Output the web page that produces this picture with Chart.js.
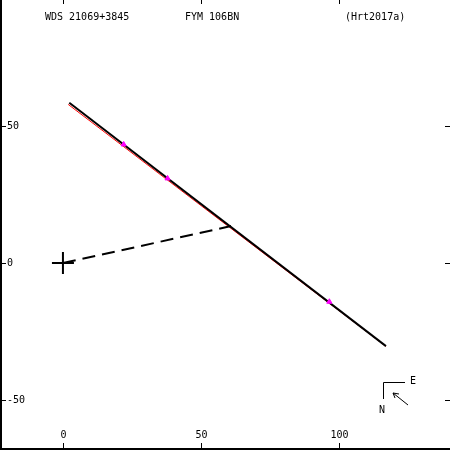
<!DOCTYPE html>
<html>
<head>
<meta charset="utf-8">
<script src="https://cdn.jsdelivr.net/npm/chart.js@4/dist/chart.umd.min.js"></script>
<style>
  html, body { margin: 0; padding: 0; background: #fff; }
  #wrap { width: 450px; height: 450px; }
</style>
</head>
<body>
<div id="wrap"><canvas id="c" width="450" height="450"></canvas></div>
<script>
// axis ranges and ticks (arcsec-ish units, as on the plot)
const xRange = [-22.8, 140.2];
const yRange = [-68.2, 96.0];
const xTicks = [0, 50, 100];
const yTicks = [-50, 0, 50];

// orbit track (red) and linear fit (black)
const orbitX = [1.9, 117.0];
const orbitY = [57.9, -30.4];
const fitX = [2.3, 117.0];
const fitY = [58.5, -30.3];

// measured positions
const obsX = [22.0, 37.9, 96.5];
const obsY = [43.3, 30.9, -14.1];

// primary and dashed line to closest point
const primX = [0];
const primY = [0];
const dashX = [0, 60.9];
const dashY = [0, 13.5];

const titles = ['WDS 21069+3845', 'FYM 106BN', '(Hrt2017a)'];

const zip = (xs, ys) => xs.map((x, i) => ({ x: x, y: ys[i] }));
const FONT = '10px "DejaVu Sans Mono", monospace';

const frame = {
	id: 'frame',
	afterDraw(chart) {
		const ctx = chart.ctx;
		const sx = chart.scales.x;
		const sy = chart.scales.y;
		const W = chart.width, H = chart.height;
		ctx.save();
		ctx.strokeStyle = '#000';
		ctx.fillStyle = '#000';
		ctx.lineWidth = 2;
		ctx.beginPath();
		ctx.moveTo(1, 0);
		ctx.lineTo(1, H - 1);
		ctx.lineTo(W, H - 1);
		ctx.stroke();

		ctx.lineWidth = 1;
		ctx.font = FONT;
		xTicks.forEach(v => {
			const px = Math.round(sx.getPixelForValue(v)) + 0.5;
			ctx.beginPath();
			ctx.moveTo(px, H - 7); ctx.lineTo(px, H);
			ctx.moveTo(px, 0); ctx.lineTo(px, 4);
			ctx.stroke();
			ctx.textAlign = 'center';
			ctx.textBaseline = 'middle';
			ctx.fillText(String(v), px, 435);
		});
		yTicks.forEach(v => {
			const py = Math.round(sy.getPixelForValue(v)) + 0.5;
			ctx.beginPath();
			ctx.moveTo(0, py); ctx.lineTo(6, py);
			ctx.moveTo(W - 5, py); ctx.lineTo(W, py);
			ctx.stroke();
			ctx.textAlign = 'left';
			ctx.textBaseline = 'middle';
			ctx.fillText(String(v), 7, py);
		});

		// header
		ctx.textAlign = 'left';
		ctx.textBaseline = 'middle';
		ctx.fillText(titles[0], 45, 17);
		ctx.fillText(titles[1], 185, 17);
		ctx.fillText(titles[2], 345, 17);

		// orientation marker
		ctx.beginPath();
		ctx.moveTo(405, 382.5); ctx.lineTo(383.5, 382.5); ctx.lineTo(383.5, 399);
		ctx.stroke();
		ctx.fillText('E', 410, 381);
		ctx.textAlign = 'center';
		ctx.fillText('N', 382, 410);
		ctx.beginPath();
		ctx.moveTo(408, 405); ctx.lineTo(393, 393);
		ctx.moveTo(393, 393); ctx.lineTo(399, 394);
		ctx.moveTo(393, 393); ctx.lineTo(395, 398);
		ctx.stroke();
		ctx.restore();
	}
};

// Chart.js paints dataset 0 last, so the topmost marks come first
new Chart(document.getElementById('c'), {
	type: 'scatter',
	data: {
		datasets: [
			{ data: zip(obsX, obsY), pointStyle: 'triangle', pointRadius: 3, backgroundColor: '#ff00ff', borderColor: '#ff00ff', borderWidth: 1 },
			{ data: zip(primX, primY), pointStyle: 'cross', pointRadius: 11, borderColor: '#000', borderWidth: 2 },
			{ data: zip(fitX, fitY), showLine: true, borderColor: '#000', borderWidth: 2, pointRadius: 0 },
			{ data: zip(dashX, dashY), showLine: true, borderColor: '#000', borderWidth: 2, borderDash: [13, 7], pointRadius: 0 },
			{ data: zip(orbitX, orbitY), showLine: true, borderColor: '#ff0000', borderWidth: 1, pointRadius: 0 },
		],
	},
	options: {
		responsive: false,
		animation: false,
		devicePixelRatio: 1,
		layout: { padding: 0, autoPadding: false },
		plugins: { legend: { display: false }, tooltip: { enabled: false } },
		scales: {
			x: { type: 'linear', min: xRange[0], max: xRange[1], display: false },
			y: { type: 'linear', min: yRange[0], max: yRange[1], display: false },
		},
	},
	plugins: [frame],
});
</script>
</body>
</html>
